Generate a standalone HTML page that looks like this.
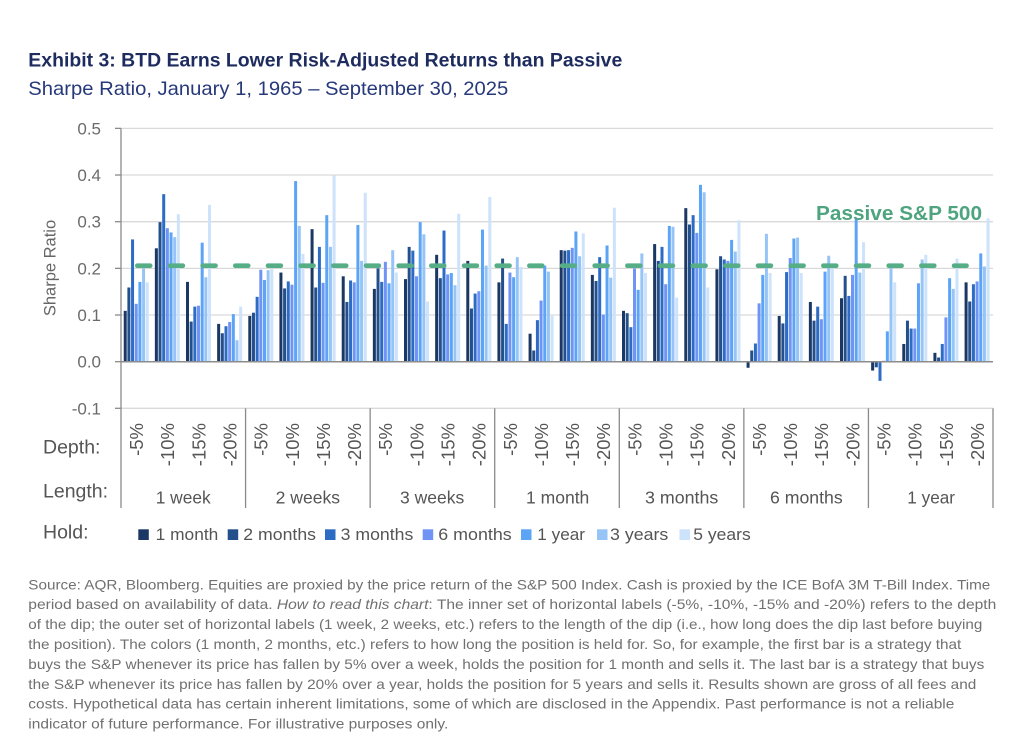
<!DOCTYPE html>
<html>
<head>
<meta charset="utf-8">
<style>
  html,body{margin:0;padding:0;background:#fff;}
  body{width:1024px;height:755px;overflow:hidden;}
  svg{display:block;}
  text{font-family:"Liberation Sans",Arial,sans-serif;}
  .c1{fill:#1b3764}.c2{fill:#234f8c}.c3{fill:#2c6cc4}.c4{fill:#7094f5}
  .c5{fill:#5ba4f6}.c6{fill:#97c4f6}.c7{fill:#cde2fb}
  .yl{font-size:17px;fill:#6b6b6b;text-anchor:end;}
  .dl{font-size:18.5px;fill:#555;text-anchor:end;}
  .ll{font-size:17.5px;fill:#555;}
  .lg{font-size:17px;fill:#555;}
  .ft{font-size:14px;fill:#707070;}
</style>
</head>
<body>
<svg width="1024" height="755" viewBox="0 0 1024 755" xmlns="http://www.w3.org/2000/svg">
  <!-- Title -->
  <text x="28.3" y="66.7" font-size="19.5" font-weight="bold" fill="#1d2b5e" textLength="594" lengthAdjust="spacingAndGlyphs">Exhibit 3: BTD Earns Lower Risk-Adjusted Returns than Passive</text>
  <text x="28.3" y="95" font-size="19.5" fill="#26397a" textLength="480" lengthAdjust="spacingAndGlyphs">Sharpe Ratio, January 1, 1965 – September 30, 2025</text>

  <!-- Gridlines -->
  <g stroke="#d9d9d9" stroke-width="1.3">
    <line x1="121" y1="128.35" x2="993" y2="128.35"/>
    <line x1="121" y1="175" x2="993" y2="175"/>
    <line x1="121" y1="221.7" x2="993" y2="221.7"/>
    <line x1="121" y1="268.35" x2="993" y2="268.35"/>
    <line x1="121" y1="315" x2="993" y2="315"/>
    <line x1="121" y1="408.3" x2="993" y2="408.3"/>
  </g>

  <!-- Y ticks and labels -->
  <g stroke="#8a8a8a" stroke-width="1.3">
    <line x1="115" y1="128.35" x2="121" y2="128.35"/>
    <line x1="115" y1="175" x2="121" y2="175"/>
    <line x1="115" y1="221.7" x2="121" y2="221.7"/>
    <line x1="115" y1="268.35" x2="121" y2="268.35"/>
    <line x1="115" y1="315" x2="121" y2="315"/>
    <line x1="115" y1="361.7" x2="121" y2="361.7"/>
    <line x1="115" y1="408.3" x2="121" y2="408.3"/>
  </g>
  <text class="yl" x="101" y="134.5">0.5</text>
  <text class="yl" x="101" y="181">0.4</text>
  <text class="yl" x="101" y="227.7">0.3</text>
  <text class="yl" x="101" y="274.3">0.2</text>
  <text class="yl" x="101" y="321">0.1</text>
  <text class="yl" x="101" y="367.7">0.0</text>
  <text class="yl" x="101" y="414.3">-0.1</text>
  <text x="0" y="0" font-size="16.5" fill="#666" text-anchor="middle" transform="translate(55.5,268) rotate(-90)">Sharpe Ratio</text>

  <!-- Bars -->
  <g transform="translate(123.72,361.7) scale(1,-466.7)">
    <rect class="c1" x="0" y="0" width="3" height=".109"/><rect class="c2" x="3.67" y="0" width="3" height=".159"/><rect class="c3" x="7.34" y="0" width="3" height=".262"/><rect class="c4" x="11.01" y="0" width="3" height=".124"/><rect class="c5" x="14.68" y="0" width="3" height=".171"/><rect class="c6" x="18.35" y="0" width="3" height=".200"/><rect class="c7" x="22.02" y="0" width="3" height=".170"/>
  </g>
  <g transform="translate(154.86,361.7) scale(1,-466.7)">
    <rect class="c1" x="0" y="0" width="3" height=".243"/><rect class="c2" x="3.67" y="0" width="3" height=".299"/><rect class="c3" x="7.34" y="0" width="3" height=".359"/><rect class="c4" x="11.01" y="0" width="3" height=".286"/><rect class="c5" x="14.68" y="0" width="3" height=".277"/><rect class="c6" x="18.35" y="0" width="3" height=".267"/><rect class="c7" x="22.02" y="0" width="3" height=".316"/>
  </g>
  <g transform="translate(186.00,361.7) scale(1,-466.7)">
    <rect class="c1" x="0" y="0" width="3" height=".171"/><rect class="c2" x="3.67" y="0" width="3" height=".086"/><rect class="c3" x="7.34" y="0" width="3" height=".118"/><rect class="c4" x="11.01" y="0" width="3" height=".120"/><rect class="c5" x="14.68" y="0" width="3" height=".255"/><rect class="c6" x="18.35" y="0" width="3" height=".181"/><rect class="c7" x="22.02" y="0" width="3" height=".336"/>
  </g>
  <g transform="translate(217.15,361.7) scale(1,-466.7)">
    <rect class="c1" x="0" y="0" width="3" height=".081"/><rect class="c2" x="3.67" y="0" width="3" height=".061"/><rect class="c3" x="7.34" y="0" width="3" height=".076"/><rect class="c4" x="11.01" y="0" width="3" height=".085"/><rect class="c5" x="14.68" y="0" width="3" height=".102"/><rect class="c6" x="18.35" y="0" width="3" height=".046"/><rect class="c7" x="22.02" y="0" width="3" height=".118"/>
  </g>
  <g transform="translate(248.29,361.7) scale(1,-466.7)">
    <rect class="c1" x="0" y="0" width="3" height=".098"/><rect class="c2" x="3.67" y="0" width="3" height=".105"/><rect class="c3" x="7.34" y="0" width="3" height=".139"/><rect class="c4" x="11.01" y="0" width="3" height=".197"/><rect class="c5" x="14.68" y="0" width="3" height=".175"/><rect class="c6" x="18.35" y="0" width="3" height=".196"/><rect class="c7" x="22.02" y="0" width="3" height=".199"/>
  </g>
  <g transform="translate(279.43,361.7) scale(1,-466.7)">
    <rect class="c1" x="0" y="0" width="3" height=".191"/><rect class="c2" x="3.67" y="0" width="3" height=".157"/><rect class="c3" x="7.34" y="0" width="3" height=".172"/><rect class="c4" x="11.01" y="0" width="3" height=".165"/><rect class="c5" x="14.68" y="0" width="3" height=".387"/><rect class="c6" x="18.35" y="0" width="3" height=".291"/><rect class="c7" x="22.02" y="0" width="3" height=".231"/>
  </g>
  <g transform="translate(310.58,361.7) scale(1,-466.7)">
    <rect class="c1" x="0" y="0" width="3" height=".284"/><rect class="c2" x="3.67" y="0" width="3" height=".159"/><rect class="c3" x="7.34" y="0" width="3" height=".246"/><rect class="c4" x="11.01" y="0" width="3" height=".169"/><rect class="c5" x="14.68" y="0" width="3" height=".314"/><rect class="c6" x="18.35" y="0" width="3" height=".246"/><rect class="c7" x="22.02" y="0" width="3" height=".399"/>
  </g>
  <g transform="translate(341.72,361.7) scale(1,-466.7)">
    <rect class="c1" x="0" y="0" width="3" height=".183"/><rect class="c2" x="3.67" y="0" width="3" height=".128"/><rect class="c3" x="7.34" y="0" width="3" height=".174"/><rect class="c4" x="11.01" y="0" width="3" height=".170"/><rect class="c5" x="14.68" y="0" width="3" height=".293"/><rect class="c6" x="18.35" y="0" width="3" height=".216"/><rect class="c7" x="22.02" y="0" width="3" height=".362"/>
  </g>
  <g transform="translate(372.86,361.7) scale(1,-466.7)">
    <rect class="c1" x="0" y="0" width="3" height=".156"/><rect class="c2" x="3.67" y="0" width="3" height=".200"/><rect class="c3" x="7.34" y="0" width="3" height=".171"/><rect class="c4" x="11.01" y="0" width="3" height=".214"/><rect class="c5" x="14.68" y="0" width="3" height=".168"/><rect class="c6" x="18.35" y="0" width="3" height=".239"/><rect class="c7" x="22.02" y="0" width="3" height=".191"/>
  </g>
  <g transform="translate(404.00,361.7) scale(1,-466.7)">
    <rect class="c1" x="0" y="0" width="3" height=".177"/><rect class="c2" x="3.67" y="0" width="3" height=".246"/><rect class="c3" x="7.34" y="0" width="3" height=".238"/><rect class="c4" x="11.01" y="0" width="3" height=".183"/><rect class="c5" x="14.68" y="0" width="3" height=".299"/><rect class="c6" x="18.35" y="0" width="3" height=".273"/><rect class="c7" x="22.02" y="0" width="3" height=".129"/>
  </g>
  <g transform="translate(435.15,361.7) scale(1,-466.7)">
    <rect class="c1" x="0" y="0" width="3" height=".229"/><rect class="c2" x="3.67" y="0" width="3" height=".179"/><rect class="c3" x="7.34" y="0" width="3" height=".281"/><rect class="c4" x="11.01" y="0" width="3" height=".187"/><rect class="c5" x="14.68" y="0" width="3" height=".190"/><rect class="c6" x="18.35" y="0" width="3" height=".164"/><rect class="c7" x="22.02" y="0" width="3" height=".317"/>
  </g>
  <g transform="translate(466.29,361.7) scale(1,-466.7)">
    <rect class="c1" x="0" y="0" width="3" height=".216"/><rect class="c2" x="3.67" y="0" width="3" height=".114"/><rect class="c3" x="7.34" y="0" width="3" height=".146"/><rect class="c4" x="11.01" y="0" width="3" height=".151"/><rect class="c5" x="14.68" y="0" width="3" height=".283"/><rect class="c6" x="18.35" y="0" width="3" height=".206"/><rect class="c7" x="22.02" y="0" width="3" height=".353"/>
  </g>
  <g transform="translate(497.43,361.7) scale(1,-466.7)">
    <rect class="c1" x="0" y="0" width="3" height=".170"/><rect class="c2" x="3.67" y="0" width="3" height=".221"/><rect class="c3" x="7.34" y="0" width="3" height=".081"/><rect class="c4" x="11.01" y="0" width="3" height=".191"/><rect class="c5" x="14.68" y="0" width="3" height=".181"/><rect class="c6" x="18.35" y="0" width="3" height=".224"/><rect class="c7" x="22.02" y="0" width="3" height=".203"/>
  </g>
  <g transform="translate(528.58,361.7) scale(1,-466.7)">
    <rect class="c1" x="0" y="0" width="3" height=".060"/><rect class="c2" x="3.67" y="0" width="3" height=".024"/><rect class="c3" x="7.34" y="0" width="3" height=".089"/><rect class="c4" x="11.01" y="0" width="3" height=".131"/><rect class="c5" x="14.68" y="0" width="3" height=".206"/><rect class="c6" x="18.35" y="0" width="3" height=".193"/><rect class="c7" x="22.02" y="0" width="3" height=".098"/>
  </g>
  <g transform="translate(559.72,361.7) scale(1,-466.7)">
    <rect class="c1" x="0" y="0" width="3" height=".239"/><rect class="c2" x="3.67" y="0" width="3" height=".238"/><rect class="c3" x="7.34" y="0" width="3" height=".239"/><rect class="c4" x="11.01" y="0" width="3" height=".244"/><rect class="c5" x="14.68" y="0" width="3" height=".279"/><rect class="c6" x="18.35" y="0" width="3" height=".226"/><rect class="c7" x="22.02" y="0" width="3" height=".275"/>
  </g>
  <g transform="translate(590.86,361.7) scale(1,-466.7)">
    <rect class="c1" x="0" y="0" width="3" height=".186"/><rect class="c2" x="3.67" y="0" width="3" height=".173"/><rect class="c3" x="7.34" y="0" width="3" height=".224"/><rect class="c4" x="11.01" y="0" width="3" height=".101"/><rect class="c5" x="14.68" y="0" width="3" height=".249"/><rect class="c6" x="18.35" y="0" width="3" height=".180"/><rect class="c7" x="22.02" y="0" width="3" height=".330"/>
  </g>
  <g transform="translate(622.00,361.7) scale(1,-466.7)">
    <rect class="c1" x="0" y="0" width="3" height=".109"/><rect class="c2" x="3.67" y="0" width="3" height=".104"/><rect class="c3" x="7.34" y="0" width="3" height=".074"/><rect class="c4" x="11.01" y="0" width="3" height=".200"/><rect class="c5" x="14.68" y="0" width="3" height=".154"/><rect class="c6" x="18.35" y="0" width="3" height=".232"/><rect class="c7" x="22.02" y="0" width="3" height=".190"/>
  </g>
  <g transform="translate(653.15,361.7) scale(1,-466.7)">
    <rect class="c1" x="0" y="0" width="3" height=".252"/><rect class="c2" x="3.67" y="0" width="3" height=".216"/><rect class="c3" x="7.34" y="0" width="3" height=".246"/><rect class="c4" x="11.01" y="0" width="3" height=".166"/><rect class="c5" x="14.68" y="0" width="3" height=".291"/><rect class="c6" x="18.35" y="0" width="3" height=".289"/><rect class="c7" x="22.02" y="0" width="3" height=".137"/>
  </g>
  <g transform="translate(684.29,361.7) scale(1,-466.7)">
    <rect class="c1" x="0" y="0" width="3" height=".329"/><rect class="c2" x="3.67" y="0" width="3" height=".294"/><rect class="c3" x="7.34" y="0" width="3" height=".314"/><rect class="c4" x="11.01" y="0" width="3" height=".276"/><rect class="c5" x="14.68" y="0" width="3" height=".379"/><rect class="c6" x="18.35" y="0" width="3" height=".363"/><rect class="c7" x="22.02" y="0" width="3" height=".159"/>
  </g>
  <g transform="translate(715.43,361.7) scale(1,-466.7)">
    <rect class="c1" x="0" y="0" width="3" height=".198"/><rect class="c2" x="3.67" y="0" width="3" height=".226"/><rect class="c3" x="7.34" y="0" width="3" height=".219"/><rect class="c4" x="11.01" y="0" width="3" height=".216"/><rect class="c5" x="14.68" y="0" width="3" height=".261"/><rect class="c6" x="18.35" y="0" width="3" height=".236"/><rect class="c7" x="22.02" y="0" width="3" height=".303"/>
  </g>
  <g transform="translate(746.58,361.7) scale(1,-466.7)">
    <rect class="c1" x="0" y="-.013" width="3" height=".013"/><rect class="c2" x="3.67" y="0" width="3" height=".024"/><rect class="c3" x="7.34" y="0" width="3" height=".039"/><rect class="c4" x="11.01" y="0" width="3" height=".125"/><rect class="c5" x="14.68" y="0" width="3" height=".186"/><rect class="c6" x="18.35" y="0" width="3" height=".274"/><rect class="c7" x="22.02" y="0" width="3" height=".190"/>
  </g>
  <g transform="translate(777.72,361.7) scale(1,-466.7)">
    <rect class="c1" x="0" y="0" width="3" height=".098"/><rect class="c2" x="3.67" y="0" width="3" height=".082"/><rect class="c3" x="7.34" y="0" width="3" height=".192"/><rect class="c4" x="11.01" y="0" width="3" height=".222"/><rect class="c5" x="14.68" y="0" width="3" height=".264"/><rect class="c6" x="18.35" y="0" width="3" height=".266"/><rect class="c7" x="22.02" y="0" width="3" height=".190"/>
  </g>
  <g transform="translate(808.86,361.7) scale(1,-466.7)">
    <rect class="c1" x="0" y="0" width="3" height=".128"/><rect class="c2" x="3.67" y="0" width="3" height=".088"/><rect class="c3" x="7.34" y="0" width="3" height=".118"/><rect class="c4" x="11.01" y="0" width="3" height=".091"/><rect class="c5" x="14.68" y="0" width="3" height=".193"/><rect class="c6" x="18.35" y="0" width="3" height=".227"/><rect class="c7" x="22.02" y="0" width="3" height=".200"/>
  </g>
  <g transform="translate(840.00,361.7) scale(1,-466.7)">
    <rect class="c1" x="0" y="0" width="3" height=".136"/><rect class="c2" x="3.67" y="0" width="3" height=".184"/><rect class="c3" x="7.34" y="0" width="3" height=".141"/><rect class="c4" x="11.01" y="0" width="3" height=".186"/><rect class="c5" x="14.68" y="0" width="3" height=".306"/><rect class="c6" x="18.35" y="0" width="3" height=".191"/><rect class="c7" x="22.02" y="0" width="3" height=".256"/>
  </g>
  <g transform="translate(871.15,361.7) scale(1,-466.7)">
    <rect class="c1" x="0" y="-.019" width="3" height=".019"/><rect class="c2" x="3.67" y="-.012" width="3" height=".012"/><rect class="c3" x="7.34" y="-.041" width="3" height=".041"/><rect class="c4" x="11.01" y="0" width="3" height=".002"/><rect class="c5" x="14.68" y="0" width="3" height=".065"/><rect class="c6" x="18.35" y="0" width="3" height=".204"/><rect class="c7" x="22.02" y="0" width="3" height=".170"/>
  </g>
  <g transform="translate(902.29,361.7) scale(1,-466.7)">
    <rect class="c1" x="0" y="0" width="3" height=".038"/><rect class="c2" x="3.67" y="0" width="3" height=".088"/><rect class="c3" x="7.34" y="0" width="3" height=".071"/><rect class="c4" x="11.01" y="0" width="3" height=".071"/><rect class="c5" x="14.68" y="0" width="3" height=".168"/><rect class="c6" x="18.35" y="0" width="3" height=".219"/><rect class="c7" x="22.02" y="0" width="3" height=".229"/>
  </g>
  <g transform="translate(933.43,361.7) scale(1,-466.7)">
    <rect class="c1" x="0" y="0" width="3" height=".019"/><rect class="c2" x="3.67" y="0" width="3" height=".009"/><rect class="c3" x="7.34" y="0" width="3" height=".038"/><rect class="c4" x="11.01" y="0" width="3" height=".095"/><rect class="c5" x="14.68" y="0" width="3" height=".179"/><rect class="c6" x="18.35" y="0" width="3" height=".156"/><rect class="c7" x="22.02" y="0" width="3" height=".221"/>
  </g>
  <g transform="translate(964.58,361.7) scale(1,-466.7)">
    <rect class="c1" x="0" y="0" width="3" height=".170"/><rect class="c2" x="3.67" y="0" width="3" height=".129"/><rect class="c3" x="7.34" y="0" width="3" height=".166"/><rect class="c4" x="11.01" y="0" width="3" height=".172"/><rect class="c5" x="14.68" y="0" width="3" height=".232"/><rect class="c6" x="18.35" y="0" width="3" height=".204"/><rect class="c7" x="22.02" y="0" width="3" height=".307"/>
  </g>

  <!-- Zero line -->
  <line x1="121" y1="361.7" x2="993" y2="361.7" stroke="#8c8c8c" stroke-width="1.5"/>

  <!-- Y axis & category separators -->
  <g stroke="#8a8a8a" stroke-width="1.3">
    <line x1="121" y1="128.35" x2="121" y2="508"/>
    <line x1="245.57" y1="408.3" x2="245.57" y2="508"/>
    <line x1="370.14" y1="408.3" x2="370.14" y2="508"/>
    <line x1="494.71" y1="408.3" x2="494.71" y2="508"/>
    <line x1="619.29" y1="408.3" x2="619.29" y2="508"/>
    <line x1="743.86" y1="408.3" x2="743.86" y2="508"/>
    <line x1="868.43" y1="408.3" x2="868.43" y2="508"/>
    <line x1="993" y1="408.3" x2="993" y2="508"/>
  </g>

  <!-- Passive dashed line -->
  <line x1="137.35" y1="265.7" x2="966.5" y2="265.7" stroke="#55ae86" stroke-width="4.7" stroke-linecap="round" stroke-dasharray="12.8 19.87"/>
  <text x="816" y="220" font-size="20.5" font-weight="bold" fill="#4ea47e" textLength="166" lengthAdjust="spacingAndGlyphs">Passive S&amp;P 500</text>

  <!-- Depth labels -->
  <text x="43" y="453.3" font-size="19.5" fill="#555">Depth:</text>
  <text class="dl" transform="translate(143.1,423) rotate(-90)">-5%</text>
  <text class="dl" transform="translate(174.2,423) rotate(-90)">-10%</text>
  <text class="dl" transform="translate(205.4,423) rotate(-90)">-15%</text>
  <text class="dl" transform="translate(236.5,423) rotate(-90)">-20%</text>
  <text class="dl" transform="translate(267.6,423) rotate(-90)">-5%</text>
  <text class="dl" transform="translate(298.8,423) rotate(-90)">-10%</text>
  <text class="dl" transform="translate(329.9,423) rotate(-90)">-15%</text>
  <text class="dl" transform="translate(361.1,423) rotate(-90)">-20%</text>
  <text class="dl" transform="translate(392.2,423) rotate(-90)">-5%</text>
  <text class="dl" transform="translate(423.4,423) rotate(-90)">-10%</text>
  <text class="dl" transform="translate(454.5,423) rotate(-90)">-15%</text>
  <text class="dl" transform="translate(485.6,423) rotate(-90)">-20%</text>
  <text class="dl" transform="translate(516.8,423) rotate(-90)">-5%</text>
  <text class="dl" transform="translate(547.9,423) rotate(-90)">-10%</text>
  <text class="dl" transform="translate(579.1,423) rotate(-90)">-15%</text>
  <text class="dl" transform="translate(610.2,423) rotate(-90)">-20%</text>
  <text class="dl" transform="translate(641.4,423) rotate(-90)">-5%</text>
  <text class="dl" transform="translate(672.5,423) rotate(-90)">-10%</text>
  <text class="dl" transform="translate(703.6,423) rotate(-90)">-15%</text>
  <text class="dl" transform="translate(734.8,423) rotate(-90)">-20%</text>
  <text class="dl" transform="translate(765.9,423) rotate(-90)">-5%</text>
  <text class="dl" transform="translate(797.1,423) rotate(-90)">-10%</text>
  <text class="dl" transform="translate(828.2,423) rotate(-90)">-15%</text>
  <text class="dl" transform="translate(859.4,423) rotate(-90)">-20%</text>
  <text class="dl" transform="translate(890.5,423) rotate(-90)">-5%</text>
  <text class="dl" transform="translate(921.6,423) rotate(-90)">-10%</text>
  <text class="dl" transform="translate(952.8,423) rotate(-90)">-15%</text>
  <text class="dl" transform="translate(983.9,423) rotate(-90)">-20%</text>

  <!-- Length labels -->
  <text x="43" y="497.3" font-size="19.5" fill="#555">Length:</text>
  <text class="ll" x="155.7" y="503.3" textLength="55" lengthAdjust="spacingAndGlyphs">1 week</text>
  <text class="ll" x="275.7" y="503.3" textLength="64.3" lengthAdjust="spacingAndGlyphs">2 weeks</text>
  <text class="ll" x="400" y="503.3" textLength="64.3" lengthAdjust="spacingAndGlyphs">3 weeks</text>
  <text class="ll" x="526" y="503.3" textLength="63.3" lengthAdjust="spacingAndGlyphs">1 month</text>
  <text class="ll" x="645" y="503.3" textLength="73.3" lengthAdjust="spacingAndGlyphs">3 months</text>
  <text class="ll" x="770" y="503.3" textLength="72.7" lengthAdjust="spacingAndGlyphs">6 months</text>
  <text class="ll" x="907.3" y="503.3" textLength="47.7" lengthAdjust="spacingAndGlyphs">1 year</text>

  <!-- Legend -->
  <text x="43" y="538.3" font-size="19.5" fill="#555">Hold:</text>
  <rect class="c1" x="138.3" y="529.3" width="10.5" height="10.7"/>
  <text class="lg" x="155.7" y="540" textLength="62.6" lengthAdjust="spacingAndGlyphs">1 month</text>
  <rect class="c2" x="227.7" y="529.3" width="10.5" height="10.7"/>
  <text class="lg" x="243.3" y="540" textLength="72.7" lengthAdjust="spacingAndGlyphs">2 months</text>
  <rect class="c3" x="325" y="529.3" width="10.5" height="10.7"/>
  <text class="lg" x="340.7" y="540" textLength="72.6" lengthAdjust="spacingAndGlyphs">3 months</text>
  <rect class="c4" x="422.7" y="529.3" width="10.5" height="10.7"/>
  <text class="lg" x="438.3" y="540" textLength="73.4" lengthAdjust="spacingAndGlyphs">6 months</text>
  <rect class="c5" x="521" y="529.3" width="10.5" height="10.7"/>
  <text class="lg" x="537.3" y="540" textLength="47.7" lengthAdjust="spacingAndGlyphs">1 year</text>
  <rect class="c6" x="597" y="529.3" width="10.5" height="10.7"/>
  <text class="lg" x="610" y="540" textLength="58.3" lengthAdjust="spacingAndGlyphs">3 years</text>
  <rect class="c7" x="679.5" y="529.3" width="10.5" height="10.7"/>
  <text class="lg" x="693.3" y="540" textLength="57.4" lengthAdjust="spacingAndGlyphs">5 years</text>

  <!-- Footer -->
  <text class="ft" x="28.3" y="589.3" textLength="962" lengthAdjust="spacingAndGlyphs">Source: AQR, Bloomberg. Equities are proxied by the price return of the S&amp;P 500 Index. Cash is proxied by the ICE BofA 3M T-Bill Index. Time</text>
  <text class="ft" x="28.3" y="609.2" textLength="968" lengthAdjust="spacingAndGlyphs">period based on availability of data. <tspan font-style="italic">How to read this chart</tspan>: The inner set of horizontal labels (-5%, -10%, -15% and -20%) refers to the depth</text>
  <text class="ft" x="28.3" y="629.1" textLength="954" lengthAdjust="spacingAndGlyphs">of the dip; the outer set of horizontal labels (1 week, 2 weeks, etc.) refers to the length of the dip (i.e., how long does the dip last before buying</text>
  <text class="ft" x="28.3" y="649" textLength="933" lengthAdjust="spacingAndGlyphs">the position). The colors (1 month, 2 months, etc.) refers to how long the position is held for. So, for example, the first bar is a strategy that</text>
  <text class="ft" x="28.3" y="668.9" textLength="956" lengthAdjust="spacingAndGlyphs">buys the S&amp;P whenever its price has fallen by 5% over a week, holds the position for 1 month and sells it. The last bar is a strategy that buys</text>
  <text class="ft" x="28.3" y="688.8" textLength="948" lengthAdjust="spacingAndGlyphs">the S&amp;P whenever its price has fallen by 20% over a year, holds the position for 5 years and sells it. Results shown are gross of all fees and</text>
  <text class="ft" x="28.3" y="708.7" textLength="926" lengthAdjust="spacingAndGlyphs">costs. Hypothetical data has certain inherent limitations, some of which are disclosed in the Appendix. Past performance is not a reliable</text>
  <text class="ft" x="28.3" y="728.6" textLength="420" lengthAdjust="spacingAndGlyphs">indicator of future performance. For illustrative purposes only.</text>
</svg>
</body>
</html>
